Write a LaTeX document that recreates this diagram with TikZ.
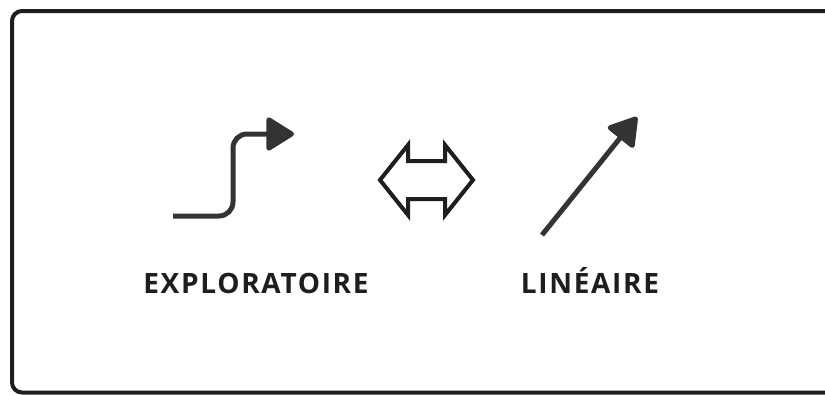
\documentclass[tikz,border=0pt]{standalone}
\usepackage{fontspec}
\setmainfont{Open Sans}
\newfontfamily\labelfont[LetterSpace=6]{Open Sans}
\usetikzlibrary{arrows.meta}
\definecolor{ink}{HTML}{333333}
\definecolor{frameink}{HTML}{1E1E1E}
\tikzset{
  icon/.style={draw=ink, line width=5pt, line cap=butt},
  bigtip/.style={-{Triangle[length=30pt,width=36pt,round]}},
  label/.style={font=\labelfont\fontsize{28}{32}\selectfont\bfseries, text=frameink, inner sep=0pt, anchor=base},
}
\begin{document}
\begin{tikzpicture}[x=1pt,y=-1pt]
\useasboundingbox (0,0) rectangle (825,394);
\clip (0,0) rectangle (825,394);
\fill[white] (0,0) rectangle (825,394);
\draw[frameink, line width=4pt, rounded corners=10pt] (12,11) rectangle (860,392.5);
% exploratory arrow
\coordinate (e0) at (173,216);
\coordinate (e1) at (233,216);
\coordinate (e2) at (233,134);
\coordinate (e3) at (294,134);
\draw[icon, bigtip, rounded corners=14pt] (e0) -- (e1) -- (e2) -- (e3);
% double hollow arrow
\node[draw=none, inner sep=0pt, minimum size=0pt] (dl) at (380,180) {};
\node[draw=none, inner sep=0pt, minimum size=0pt] (dr) at (473,180) {};
\draw[frameink, line width=4pt, line join=miter]
  (dl.center) -- (408,145) -- (408,161) -- (445,161) -- (445,145) -- (dr.center)
  -- (445,215) -- (445,199) -- (408,199) -- (408,215) -- cycle;
% linear arrow
\coordinate (l0) at (542,235);
\coordinate (l1) at (637,117);
\draw[icon, bigtip] (l0) -- (l1);
% labels
\node[label] (expl) at (256,293) {EXPLORATOIRE};
\node[label] (lin) at (590,293) {LINÉAIRE};
\end{tikzpicture}
\end{document}
